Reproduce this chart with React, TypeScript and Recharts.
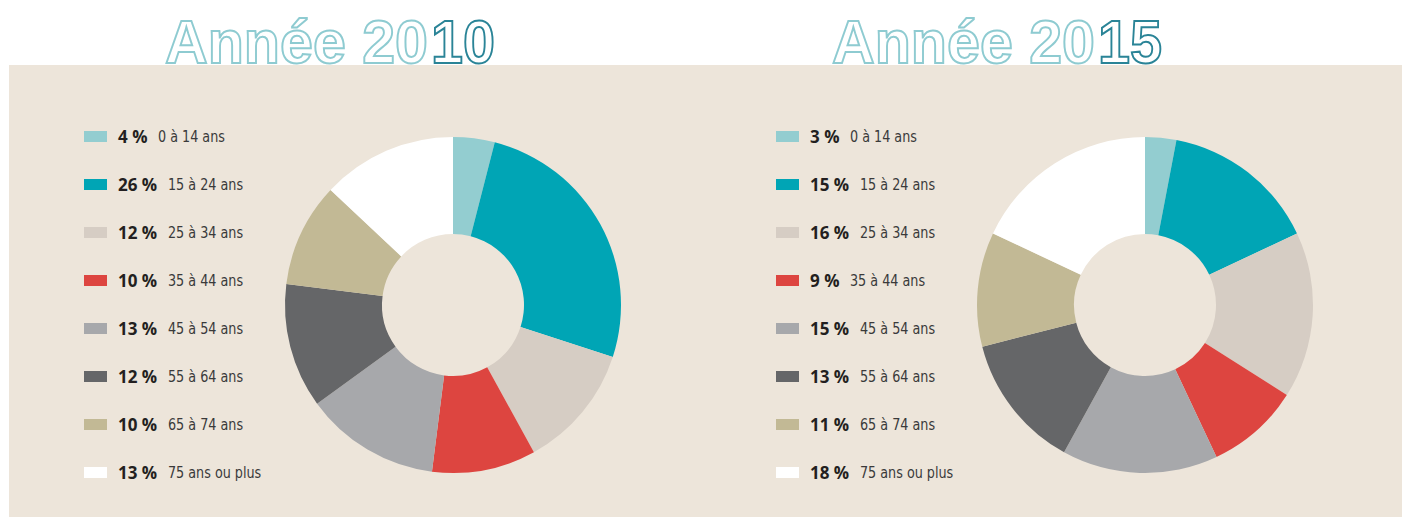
import React from "react";
import { PieChart, Pie, Cell } from "recharts";

const ageGroups = [
  "0 à 14 ans",
  "15 à 24 ans",
  "25 à 34 ans",
  "35 à 44 ans",
  "45 à 54 ans",
  "55 à 64 ans",
  "65 à 74 ans",
  "75 ans ou plus",
];
const values2010 = [4, 26, 12, 10, 13, 12, 10, 13];
const values2015 = [3, 15, 16, 9, 15, 13, 11, 18];
const sliceColors = ["#93cdd0", "#00a5b5", "#d6cdc4", "#dd4540", "#a7a8ab", "#656668", "#c2b995", "#ffffff"];

const BG = "#ede5da";
const ROW_TOP = 136;
const ROW_STEP = 48;

function toData(values: number[]) {
  return ageGroups.map((name, i) => ({ name, value: values[i] }));
}

const titleFont = {
  fontFamily: "'Liberation Sans', Arial, sans-serif",
  fontWeight: 700,
  fontSize: 62,
  fill: "#ffffff",
  strokeWidth: 2,
};

// outlined title, last two digits in darker teal
function Title({ x, year }: { x: number; year: string }) {
  return (
    <g>
      <text x={x} y={63} {...titleFont} stroke="#8ecbd1" textLength={263} lengthAdjust="spacingAndGlyphs">
        {"Année " + year.slice(0, 2)}
      </text>
      <text x={x + 266} y={63} {...titleFont} stroke="#2a8497" textLength={64} lengthAdjust="spacingAndGlyphs">
        {year.slice(2)}
      </text>
    </g>
  );
}

function LegendBlock({ left, values }: { left: number; values: number[] }) {
  return (
    <div style={{ position: "absolute", left, top: 0 }}>
      {ageGroups.map((g, i) => (
        <div
          key={g}
          style={{
            position: "absolute",
            top: ROW_TOP + i * ROW_STEP - 12,
            left: 0,
            height: 24,
            display: "flex",
            alignItems: "center",
            whiteSpace: "nowrap",
          }}
        >
          <span style={{ width: 23, height: 11, background: sliceColors[i], display: "inline-block" }} />
          <span
            style={{
              marginLeft: 11,
              fontFamily: "'Open Sans', sans-serif",
              fontWeight: 700,
              fontSize: 17,
              color: "#231f20",
            }}
          >
            {values[i]} %
          </span>
          <span
            style={{
              marginLeft: 11,
              fontFamily: "'Liberation Sans Narrow', 'DejaVu Sans Condensed', sans-serif",
              fontSize: 16.5,
              color: "#3a3a3a",
              display: "inline-block",
              transform: "scaleX(0.86)",
              transformOrigin: "left center",
            }}
          >
            {g}
          </span>
        </div>
      ))}
    </div>
  );
}

export default function App() {
  return (
    <div style={{ position: "absolute", left: 0, top: 0, width: 1402, height: 517, background: "#fff", overflow: "hidden" }}>
      <div style={{ position: "absolute", left: 9, top: 65, width: 1393, height: 452, background: BG }} />
      <svg width={1402} height={80} style={{ position: "absolute", left: 0, top: 0 }}>
        <Title x={165} year="2010" />
        <Title x={832} year="2015" />
      </svg>
      <div style={{ position: "absolute", left: 0, top: 0 }}>
        <PieChart width={1402} height={517} margin={{ top: 0, right: 0, bottom: 0, left: 0 }}>
          <Pie
            data={toData(values2010)}
            dataKey="value"
            nameKey="name"
            cx={453}
            cy={305}
            innerRadius={71}
            outerRadius={168}
            startAngle={90}
            endAngle={-270}
            stroke="none"
            isAnimationActive={false}
          >
            {values2010.map((_, i) => (
              <Cell key={i} fill={sliceColors[i]} />
            ))}
          </Pie>
          <Pie
            data={toData(values2015)}
            dataKey="value"
            nameKey="name"
            cx={1145}
            cy={305}
            innerRadius={71}
            outerRadius={168}
            startAngle={90}
            endAngle={-270}
            stroke="none"
            isAnimationActive={false}
          >
            {values2015.map((_, i) => (
              <Cell key={i} fill={sliceColors[i]} />
            ))}
          </Pie>
        </PieChart>
      </div>
      <LegendBlock left={84} values={values2010} />
      <LegendBlock left={776} values={values2015} />
    </div>
  );
}
